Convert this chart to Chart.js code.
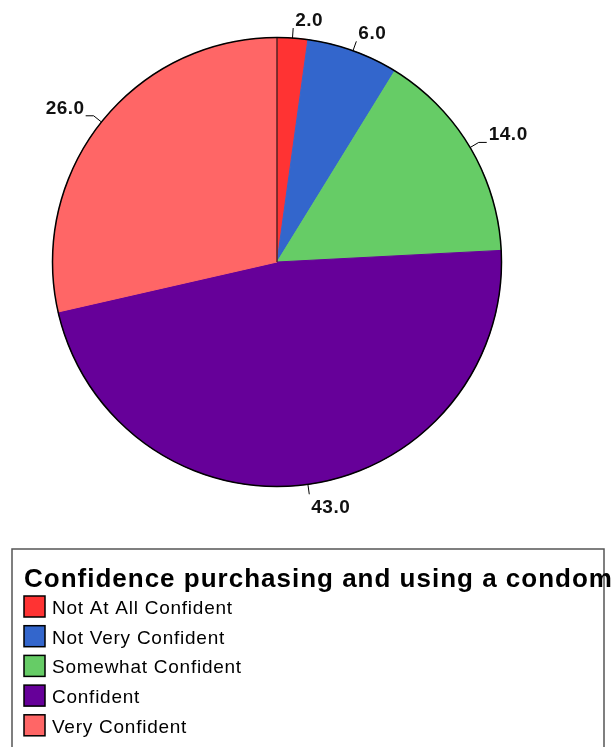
<!DOCTYPE html>
<html>
<head>
<meta charset="utf-8">
<title>Confidence purchasing and using a condom</title>
<script src="https://cdn.jsdelivr.net/npm/chart.js@4"></script>
<style>
  html, body { margin: 0; padding: 0; background: #fff; }
  #wrap { width: 615px; height: 747px; position: relative; }
</style>
</head>
<body>
<div id="wrap"><canvas id="pieChart"></canvas></div>
<script>
var legendTitle = 'Confidence purchasing and using a condom';
var categories = ['Not At All Confident', 'Not Very Confident', 'Somewhat Confident', 'Confident', 'Very Confident'];
var percents = [2.0, 6.0, 14.0, 43.0, 26.0];

var palette = ['#FF3333', '#3366CC', '#66CC66', '#660099', '#FF6666'];
var fontFamily = "Arial, 'Liberation Sans', sans-serif";

// outline of the pie plus the black seam at 12 o'clock
var pieOutline = {
    id: 'pieOutline',
    afterDatasetsDraw: function (chart) {
        var arc = chart.getDatasetMeta(0).data[0];
        var c = chart.ctx;
        c.save();
        c.strokeStyle = '#000';
        c.lineWidth = 1.5;
        c.beginPath();
        c.arc(arc.x, arc.y, arc.outerRadius, 0, Math.PI * 2);
        c.stroke();
        c.lineWidth = 1;
        c.beginPath();
        c.moveTo(arc.x, arc.y);
        c.lineTo(arc.x, arc.y - arc.outerRadius);
        c.stroke();
        c.restore();
    }
};

// value labels outside each slice with a short leader line
var sliceLabels = {
    id: 'sliceLabels',
    afterDatasetsDraw: function (chart) {
        var meta = chart.getDatasetMeta(0);
        var values = chart.data.datasets[0].data;
        var c = chart.ctx;
        c.save();
        c.font = 'bold 19px ' + fontFamily;
        c.letterSpacing = '0.5px';
        c.strokeStyle = '#000';
        c.fillStyle = '#111';
        c.lineWidth = 1;
        meta.data.forEach(function (arc, i) {
            var mid = (arc.startAngle + arc.endAngle) / 2;
            var dx = Math.cos(mid), dy = Math.sin(mid);
            var x0 = arc.x + dx * arc.outerRadius;
            var y0 = arc.y + dy * arc.outerRadius;
            var x1 = x0 + dx * 10;
            var y1 = y0 + dy * 10;
            var x2 = x1, y2 = y1;
            if (Math.abs(dx) > Math.abs(dy)) x2 = x1 + (dx > 0 ? 8 : -8);
            c.beginPath();
            c.moveTo(x0, y0);
            c.lineTo(x1, y1);
            c.lineTo(x2, y2);
            c.stroke();
            c.textAlign = dx >= 0 ? 'left' : 'right';
            c.textBaseline = dy < 0 ? 'bottom' : 'top';
            var tx = x2 + (dx >= 0 ? 2 : -1);
            var ty = y2 + (dy < 0 ? 2 : 4);
            c.fillText(values[i].toFixed(1), tx, ty);
        });
        c.restore();
    }
};

// boxed legend under the pie
var boxLegend = {
    id: 'boxLegend',
    afterDraw: function (chart) {
        var c = chart.ctx;
        var ds = chart.data.datasets[0];
        c.save();
        c.strokeStyle = '#555';
        c.lineWidth = 1.5;
        c.strokeRect(12, 549, 592, 220);

        c.fillStyle = '#000';
        c.textAlign = 'left';
        c.textBaseline = 'alphabetic';
        c.font = 'bold 26px ' + fontFamily;
        c.letterSpacing = '1px';
        c.fillText(legendTitle, 24, 587);

        c.font = '19px ' + fontFamily;
        c.letterSpacing = '0.75px';
        chart.data.labels.forEach(function (label, i) {
            var y = 596 + i * 29.7;
            c.fillStyle = ds.backgroundColor[i];
            c.fillRect(24, y, 21, 21);
            c.strokeStyle = '#000';
            c.lineWidth = 1.5;
            c.strokeRect(24, y, 21, 21);
            c.fillStyle = '#000';
            c.fillText(label, 52, y + 18);
        });
        c.restore();
    }
};

var ctx = document.getElementById('pieChart').getContext('2d');
var pieChart = new Chart(ctx, {
    type: 'pie',
    data: {
        labels: categories,
        datasets: [{
            data: percents,
            backgroundColor: palette,
            borderColor: palette,
            borderWidth: 1
        }]
    },
    options: {
        responsive: true,
        maintainAspectRatio: false,
        animation: false,
        layout: {
            padding: { left: 52, right: 113, top: 37, bottom: 260 }
        },
        plugins: {
            legend: { display: false },
            tooltip: { enabled: false }
        }
    },
    plugins: [pieOutline, sliceLabels, boxLegend]
});
</script>
</body>
</html>
